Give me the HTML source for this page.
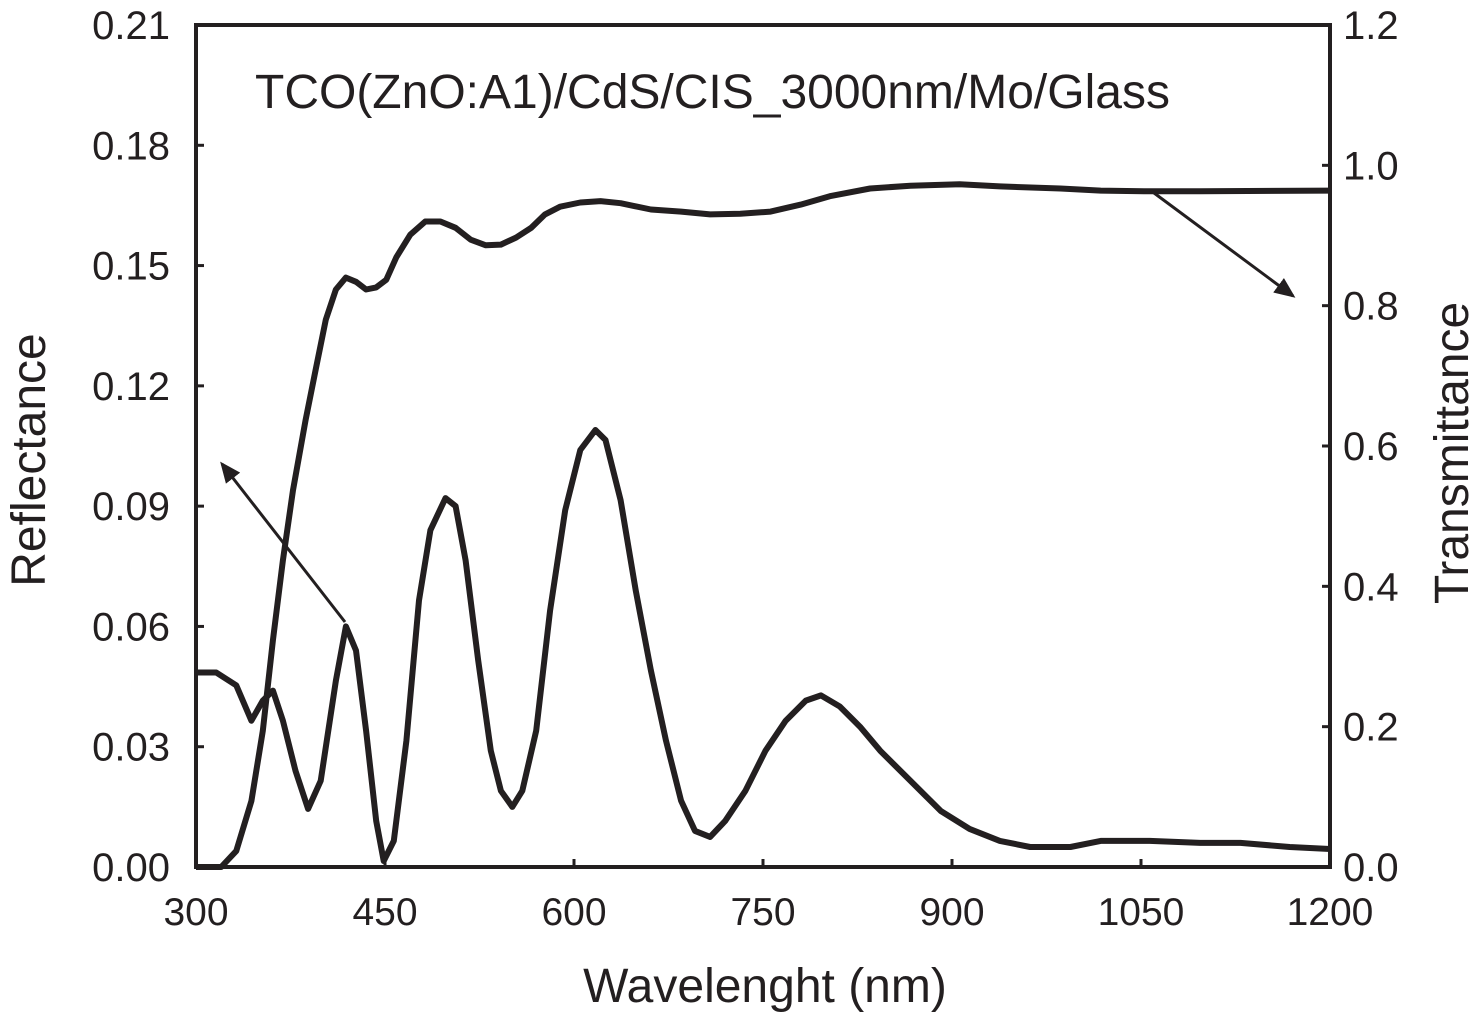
<!DOCTYPE html>
<html><head><meta charset="utf-8"><style>
body{margin:0;background:#fff}
svg text{font-family:"Liberation Sans",Arial,sans-serif;fill:#231f20}
</style></head><body>
<svg id="chart" width="1480" height="1012" viewBox="0 0 1480 1012" xmlns="http://www.w3.org/2000/svg">
<g id="g"></g>
</svg>
<script>
const xTicks=[300,450,600,750,900,1050,1200];
const leftTicks=["0.00","0.03","0.06","0.09","0.12","0.15","0.18","0.21"];
const rightTicks=["0.0","0.2","0.4","0.6","0.8","1.0","1.2"];
const reflWl=[300,316,332,344,353,361,369,379,389,399,411,419,427,435,443,449,457,467,477,486,498,506,514,524,534,542,551,559,570,581,593,605,617,625,637,649,661,673,685,696,708,720,736,752,768,784,796,811,827,843,867,891,914,938,962,994,1018,1057,1097,1129,1168,1200];
const reflVal=[0.0485,0.0485,0.0453,0.0365,0.0415,0.044,0.0365,0.024,0.0145,0.0215,0.0465,0.060,0.054,0.034,0.0115,0.0015,0.0065,0.0315,0.0665,0.084,0.092,0.090,0.0765,0.0515,0.029,0.019,0.015,0.019,0.034,0.064,0.089,0.104,0.109,0.1065,0.0915,0.069,0.049,0.0315,0.0165,0.009,0.0075,0.0115,0.019,0.029,0.0365,0.0415,0.0428,0.040,0.035,0.029,0.0215,0.014,0.0095,0.0065,0.005,0.005,0.0065,0.0065,0.006,0.006,0.005,0.0045];
const transWl=[300,320,332,344,353,361,369,377,387,395,403,411,419,427,435,443,451,459,470,482,494,506,518,530,542,554,566,577,589,605,621,637,661,685,708,732,756,780,803,835,867,906,938,986,1018,1057,1097,1200];
const transVal=[0,0,0.023,0.094,0.194,0.323,0.437,0.537,0.637,0.709,0.78,0.823,0.84,0.834,0.823,0.826,0.837,0.869,0.901,0.92,0.92,0.911,0.894,0.886,0.887,0.897,0.911,0.93,0.941,0.947,0.949,0.946,0.937,0.934,0.93,0.931,0.934,0.944,0.956,0.967,0.971,0.973,0.97,0.967,0.964,0.963,0.963,0.964];

const L=196,R=1330,T=25,B=867;
const xs=v=>L+(v-300)/900*(R-L);
const yl=v=>B-v/0.21*(B-T);
const yr=v=>B-v/1.2*(B-T);
const NS="http://www.w3.org/2000/svg";
const g=document.getElementById('g');
function mk(tag,attrs,parent){const e=document.createElementNS(NS,tag);for(const k in attrs)e.setAttribute(k,attrs[k]);(parent||g).appendChild(e);return e;}

const rp=reflWl.map((w,i)=>xs(w).toFixed(1)+','+yl(reflVal[i]).toFixed(1)).join(' ');
const rl=mk('polyline',{points:rp,fill:'none',stroke:'#231f20','stroke-width':6,'stroke-linejoin':'round'});


const tp=transWl.map((w,i)=>xs(w).toFixed(1)+','+yr(transVal[i]).toFixed(1)).join(' ');
const tl=mk('polyline',{points:tp,fill:'none',stroke:'#231f20','stroke-width':6,'stroke-linejoin':'round'});



const fr=mk('rect',{x:L,y:T,width:R-L,height:B-T,fill:'none',stroke:'#231f20','stroke-width':4});



xTicks.forEach(v=>{
  mk('line',{x1:xs(v),y1:B,x2:xs(v),y2:B-8,stroke:'#231f20','stroke-width':3});
  const t=mk('text',{x:xs(v),y:925,'font-size':39,'text-anchor':'middle'});
  t.textContent=v;
  
  
});
leftTicks.forEach(s=>{
  const v=parseFloat(s);
  mk('line',{x1:L,y1:yl(v),x2:L+8,y2:yl(v),stroke:'#231f20','stroke-width':3});
  const t=mk('text',{x:170,y:yl(v)+14,'font-size':40,'text-anchor':'end'});
  t.textContent=s;
  
  
});
rightTicks.forEach(s=>{
  const v=parseFloat(s);
  mk('line',{x1:R,y1:yr(v),x2:R-8,y2:yr(v),stroke:'#231f20','stroke-width':3});
  const t=mk('text',{x:1343,y:yr(v)+14,'font-size':40,'text-anchor':'start'});
  t.textContent=s;
  
  
});

mk('defs',{}).innerHTML='<marker id="ah" markerWidth="8" markerHeight="8" refX="6" refY="4" orient="auto"><path d="M0,1 L7,4 L0,7 Z" fill="#231f20"/></marker>';
const a1=mk('line',{x1:1150,y1:190,x2:1293,y2:296,stroke:'#231f20','stroke-width':3,'marker-end':'url(#ah)'});


const a2=mk('line',{x1:345,y1:622,x2:222,y2:464,stroke:'#231f20','stroke-width':3,'marker-end':'url(#ah)'});



const tt=mk('text',{x:255,y:108,'font-size':48});
tt.textContent='TCO(ZnO:A1)/CdS/CIS_3000nm/Mo/Glass';


const xt=mk('text',{x:765,y:1002,'font-size':48,'text-anchor':'middle'});
xt.textContent='Wavelenght (nm)';


const ylt=mk('text',{x:0,y:0,'font-size':48,'text-anchor':'middle',transform:'translate(45,460) rotate(-90)'});
ylt.textContent='Reflectance';


const yrt=mk('text',{x:0,y:0,'font-size':48,'text-anchor':'middle',transform:'translate(1468,453) rotate(-90)'});
yrt.textContent='Transmittance';


</script>
</body></html>
